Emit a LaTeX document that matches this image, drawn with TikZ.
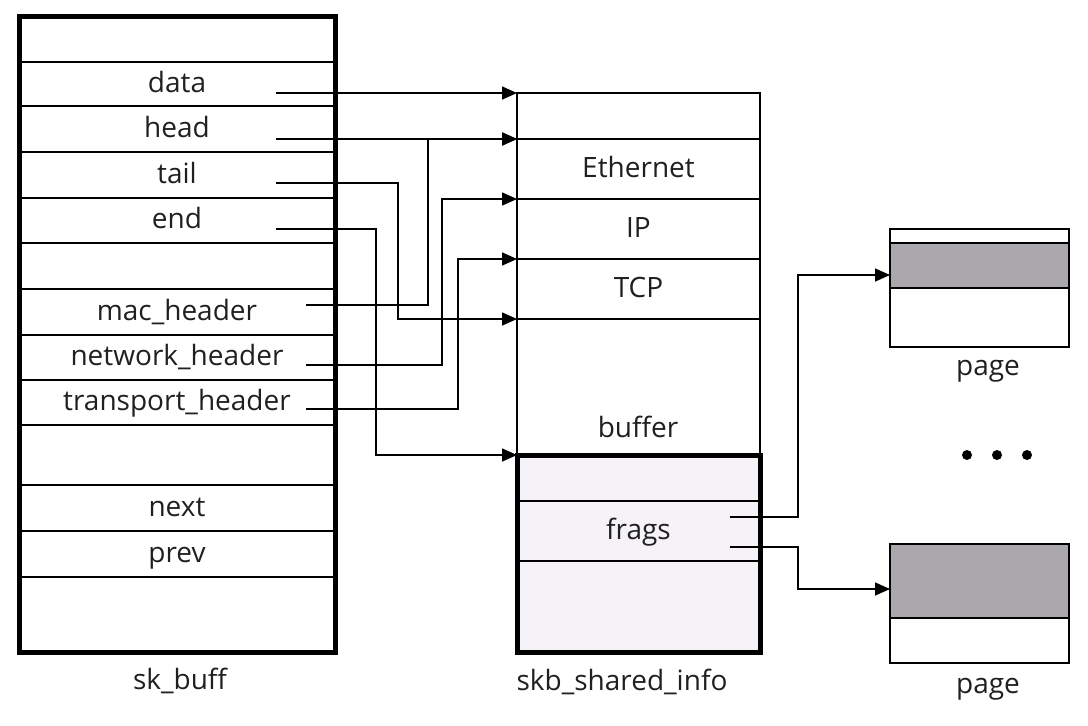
\documentclass[tikz,border=0pt]{standalone}
\usepackage{fontspec}
\setmainfont{Open Sans}
\usetikzlibrary{arrows.meta,positioning}
\definecolor{pgray}{HTML}{AAA8AC}
\definecolor{lav}{HTML}{F5F3F7}
\definecolor{ink}{HTML}{202020}

\begin{document}
\begin{tikzpicture}[x=1pt,y=-1pt,
    font=\fontsize{28}{33}\selectfont,text=ink,
    cell/.style={draw,line width=1.6pt,inner sep=0pt,outer sep=0pt,
      minimum width=316pt,text height=20pt,text depth=4pt},
    bcell/.style={cell,minimum width=243pt},
    pcell/.style={draw,line width=1.6pt,inner sep=0pt,outer sep=0pt,
      minimum width=179pt},
    frame/.style={draw,line width=5pt},
    ptr/.style={line width=1.6pt,-{Triangle[length=15pt,width=13pt]}}]

   \useasboundingbox (0,0) rectangle (1088,726);

   % sk_buff
   \node[cell,minimum height=46pt,anchor=north west] (stop) at (19,16) {};
   \node[cell,minimum height=44pt,below=0pt of stop] (sdata) {data};
   \node[cell,minimum height=46pt,below=0pt of sdata] (shead) {head};
   \node[cell,minimum height=46pt,below=0pt of shead] (stail) {tail};
   \node[cell,minimum height=45pt,below=0pt of stail] (send) {end};
   \node[cell,minimum height=46pt,below=0pt of send] (sgap1) {};
   \node[cell,minimum height=46pt,below=0pt of sgap1] (smac) {mac\_header};
   \node[cell,minimum height=45pt,below=0pt of smac] (snet) {network\_header};
   \node[cell,minimum height=45pt,below=0pt of snet] (strans) {transport\_header};
   \node[cell,minimum height=60pt,below=0pt of strans] (sgap2) {};
   \node[cell,minimum height=46pt,below=0pt of sgap2] (snext) {next};
   \node[cell,minimum height=46pt,below=0pt of snext] (sprev) {prev};
   \node[cell,minimum height=75pt,below=0pt of sprev] (sbot) {};
   \draw[frame] (stop.north west) rectangle (sbot.south east);
   \node[anchor=base] (skblbl) at (180,689) {sk\_buff};

   % buffer
   \node[bcell,minimum height=46pt,anchor=north west] (btop) at (517,93) {};
   \node[bcell,minimum height=60pt,below=0pt of btop] (eth) {Ethernet};
   \node[bcell,minimum height=60pt,below=0pt of eth] (ip) {IP};
   \node[bcell,minimum height=60pt,below=0pt of ip] (tcp) {TCP};
   \node[bcell,minimum height=136pt,below=0pt of tcp] (buf) {};
   \node[anchor=base] (buftxt) at (638,437) {buffer};

   % skb_shared_info
   \node[bcell,minimum height=46pt,fill=lav,below=0pt of buf] (shtop) {};
   \node[bcell,minimum height=60pt,fill=lav,below=0pt of shtop] (frags) {frags};
   \node[bcell,minimum height=91pt,fill=lav,below=0pt of frags] (shbot) {};
   \draw[frame] (shtop.north west) rectangle (shbot.south east);
   \node[anchor=base] (shlbl) at (622,690) {skb\_shared\_info};

   % pages
   \node[pcell,minimum height=14pt,anchor=north west] (p1a) at (890,229) {};
   \node[pcell,minimum height=45pt,fill=pgray,below=0pt of p1a] (p1b) {};
   \node[pcell,minimum height=59pt,below=0pt of p1b] (p1c) {};
   \node[anchor=base] (p1lbl) at (988,375) {page};
   \node[pcell,minimum height=74pt,fill=pgray,anchor=north west] (p2a) at (890,544) {};
   \node[pcell,minimum height=45pt,below=0pt of p2a] (p2b) {};
   \node[anchor=base] (p2lbl) at (988,693) {page};
   \foreach \x in {967,997,1027}
     \fill (\x,455) circle (5pt);

   % pointers
   \coordinate (pdata) at (276,93);
   \coordinate (phead) at (276,139);
   \coordinate (ptail) at (276,183);
   \coordinate (pend) at (276,229);
   \coordinate (pmac) at (306,305);
   \coordinate (pnet) at (306,365);
   \coordinate (ptrans) at (306,409);
   \coordinate (pfrag1) at (730,517);
   \coordinate (pfrag2) at (730,547);
   \coordinate (pg1) at (890,275);
   \coordinate (pg2) at (890,589);

   \draw[ptr] (pdata) -- (btop.north west);
   \draw[ptr] (phead) -- (eth.north west);
   \draw[ptr] (pmac) -- ++(122,0) |- (eth.north west);
   \draw[ptr] (ptail) -- ++(122,0) |- (buf.north west);
   \draw[ptr] (pend) -- ++(100,0) |- (shtop.north west);
   \draw[ptr] (pnet) -- ++(136,0) |- (ip.north west);
   \draw[ptr] (ptrans) -- ++(152,0) |- (tcp.north west);
   \draw[ptr] (pfrag1) -- ++(68,0) |- (pg1);
   \draw[ptr] (pfrag2) -- ++(68,0) |- (pg2);

\end{tikzpicture}
\end{document}
